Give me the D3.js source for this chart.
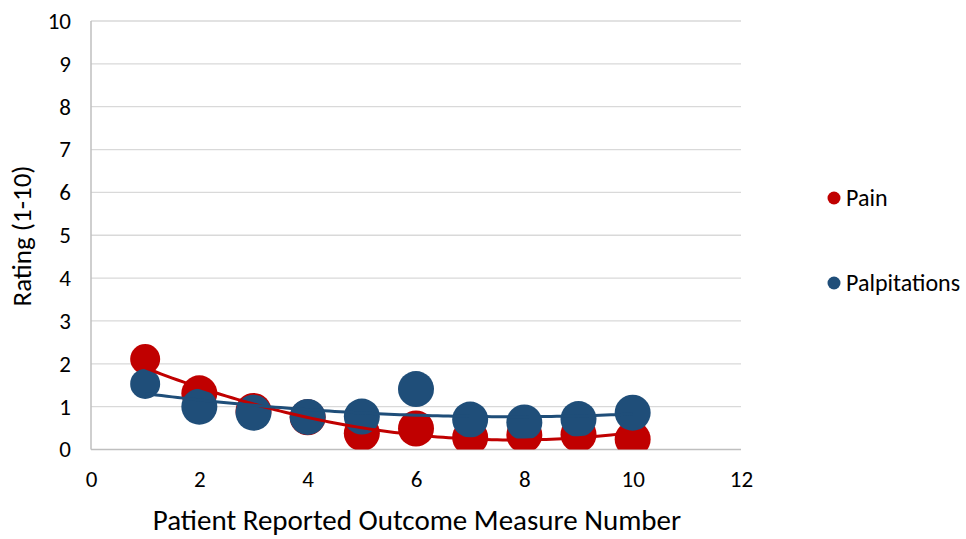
<!DOCTYPE html>
<html>
<head>
<meta charset="utf-8">
<script src="https://cdn.jsdelivr.net/npm/d3@7"></script>
<style>
  body { margin: 0; background: #fff; }
  text { font-family: Carlito, Calibri, Lato, sans-serif; fill: #000; }
</style>
</head>
<body>
<div class="chart"></div>
<script>
// data
const measures = [1, 2, 3, 4, 5, 6, 7, 8, 9, 10];
const pain = [2.11, 1.31, 0.9, 0.75, 0.38, 0.49, 0.28, 0.34, 0.35, 0.24];
const palpitations = [1.53, 1.0, 0.86, 0.76, 0.77, 1.41, 0.7, 0.63, 0.71, 0.86];
const xTicks = [0, 2, 4, 6, 8, 10, 12];
const yTicks = [0, 1, 2, 3, 4, 5, 6, 7, 8, 9, 10];

const width = 966, height = 539;
const plot = { left: 91, right: 741, top: 21, bottom: 449.5 };

const svg = d3.select(".chart").append("svg")
    .attr("width", width)
    .attr("height", height);

const x = d3.scaleLinear().domain([0, 12]).range([plot.left, plot.right]);
const y = d3.scaleLinear().domain([0, 10]).range([plot.bottom, plot.top]);

// gridlines
svg.append("g")
    .selectAll("line")
    .data(yTicks.filter(d => d > 0))
    .join("line")
    .attr("x1", plot.left).attr("x2", plot.right)
    .attr("y1", d => y(d)).attr("y2", d => y(d))
    .attr("stroke", "#d9d9d9")
    .attr("stroke-width", 1.3);

// axis lines
svg.append("line")
    .attr("x1", plot.left).attr("x2", plot.left)
    .attr("y1", plot.top).attr("y2", plot.bottom)
    .attr("stroke", "#bfbfbf").attr("stroke-width", 1.5);
svg.append("line")
    .attr("x1", plot.left).attr("x2", plot.right)
    .attr("y1", plot.bottom).attr("y2", plot.bottom)
    .attr("stroke", "#bfbfbf").attr("stroke-width", 1.5);

// tick labels
const yAxis = d3.axisLeft(y).tickValues(yTicks).tickSize(0).tickPadding(20);
svg.append("g")
    .attr("transform", `translate(${plot.left},0)`)
    .call(yAxis)
    .call(g => g.select(".domain").remove())
    .selectAll("text")
    .style("font-size", "23px");

const xAxis = d3.axisBottom(x).tickValues(xTicks).tickSize(0).tickPadding(21);
svg.append("g")
    .attr("transform", `translate(0,${plot.bottom})`)
    .call(xAxis)
    .call(g => g.select(".domain").remove())
    .selectAll("text")
    .style("font-size", "23px");

// axis titles
svg.append("text")
    .attr("transform", "translate(31,236) rotate(-90)")
    .attr("text-anchor", "middle")
    .style("font-size", "27px")
    .text("Rating (1-10)");
svg.append("text")
    .attr("x", 417).attr("y", 530)
    .attr("text-anchor", "middle")
    .style("font-size", "29px")
    .text("Patient Reported Outcome Measure Number");

// clip markers to plot area
svg.append("clipPath").attr("id", "plot-clip")
    .append("rect")
    .attr("x", plot.left).attr("y", 0)
    .attr("width", plot.right - plot.left)
    .attr("height", plot.bottom);

const series = [
    { name: "Pain", values: pain, color: "#c00000" },
    { name: "Palpitations", values: palpitations, color: "#1f4e79" }
];

const marks = svg.append("g").attr("clip-path", "url(#plot-clip)");
series.forEach(s => {
    marks.append("g")
        .selectAll("circle")
        .data(measures.map((m, i) => ({ m, v: s.values[i] })))
        .join("circle")
        .attr("cx", d => x(d.m))
        .attr("cy", d => y(d.v))
        .attr("r", (d, i) => i === 0 ? 15 : 18)
        .attr("fill", s.color);
});

// quadratic trendline (least squares)
function quadFit(xs, ys) {
    let s = [0, 0, 0, 0, 0], t = [0, 0, 0];
    xs.forEach((xv, i) => {
        for (let k = 0; k < 5; k++) s[k] += Math.pow(xv, k);
        for (let k = 0; k < 3; k++) t[k] += ys[i] * Math.pow(xv, k);
    });
    const A = [[s[0], s[1], s[2], t[0]], [s[1], s[2], s[3], t[1]], [s[2], s[3], s[4], t[2]]];
    for (let i = 0; i < 3; i++) {
        for (let j = i + 1; j < 3; j++) {
            const f = A[j][i] / A[i][i];
            for (let k = i; k < 4; k++) A[j][k] -= f * A[i][k];
        }
    }
    const c = [0, 0, 0];
    for (let i = 2; i >= 0; i--) {
        let sum = A[i][3];
        for (let k = i + 1; k < 3; k++) sum -= A[i][k] * c[k];
        c[i] = sum / A[i][i];
    }
    return xv => c[0] + c[1] * xv + c[2] * xv * xv;
}

const line = d3.line().x(d => x(d[0])).y(d => y(d[1]));
const xs = d3.range(1, 10.01, 0.1);
series.forEach(s => {
    const f = quadFit(measures, s.values);
    svg.append("path")
        .attr("d", line(xs.map(xv => [xv, f(xv)])))
        .attr("fill", "none")
        .attr("stroke", s.color)
        .attr("stroke-width", 3);
});

// legend
const legend = svg.append("g");
series.forEach((s, i) => {
    const ly = 198 + i * 85;
    legend.append("circle")
        .attr("cx", 834).attr("cy", ly).attr("r", 6.5)
        .attr("fill", s.color);
    legend.append("text")
        .attr("x", 846).attr("y", ly)
        .attr("dy", "0.35em")
        .style("font-size", "24px")
        .text(s.name);
});
</script>
</body>
</html>
